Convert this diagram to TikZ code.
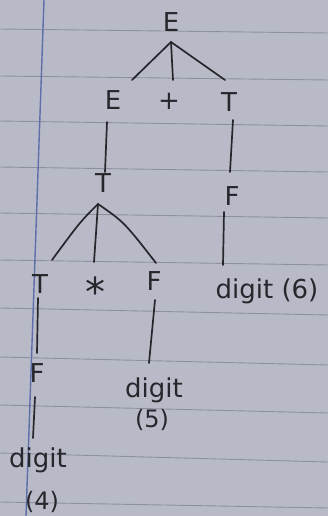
\documentclass[tikz,border=0pt]{standalone}
\usepackage{fontspec}
\setmainfont{DejaVu Sans}
\definecolor{paper}{RGB}{184,187,199}
\definecolor{rule}{RGB}{140,145,160}
\definecolor{margin}{RGB}{95,110,170}
\definecolor{ink}{RGB}{38,38,44}
\begin{document}
\begin{tikzpicture}[x=1pt,y=-1pt,
  lbl/.style={font=\fontsize{26}{26}\selectfont, text=ink, inner sep=0pt, anchor=base},
  small/.style={font=\fontsize{24}{24}\selectfont, text=ink, inner sep=0pt, anchor=base},
  star/.style={font=\fontsize{40}{40}\selectfont, text=ink, inner sep=0pt, anchor=base},
  edge/.style={draw=ink, line width=1.7pt, line cap=round},
  ruling/.style={draw=rule, line width=0.9pt}]
\useasboundingbox (0,0) rectangle (328,516);
\fill[paper] (0,0) rectangle (328,516);
% ruled paper
\foreach \a/\b in {29/33,76/80,121/126,167/172,213/218,260/265,308/315,357/365,405/413,453/462,502/508}
  \draw[ruling] (0,\a) -- (328,\b);
\draw[margin, line width=1.4pt] (44,0) -- (26,516);
% nodes
\node[lbl] (E1) at (171,32) {E};
\node[lbl] (E2) at (113,110) {E};
\node[lbl] (P)  at (169,110) {+};
\node[lbl] (T1) at (229,112) {T};
\node[lbl] (T2) at (103,192) {T};
\node[lbl] (F1) at (232,205) {F};
\node[lbl] (T3) at (40,293) {T};
\node[star] (S) at (95,306) {*};
\node[lbl] (F2) at (154,290) {F};
\node[lbl] (D6) at (267,298) {digit (6)};
\node[lbl] (F3) at (37,382) {F};
\node[lbl] (D5) at (154,397) {digit};
\node[small] (N5) at (152,427) {(5)};
\node[lbl] (D4) at (38,467) {digit};
\node[small] (N4) at (42,509) {(4)};
% connector end points
\coordinate (j1) at (171,42);
\coordinate (a1) at (132,80);
\coordinate (a2) at (173,80);
\coordinate (a3) at (225,80);
\coordinate (e2s) at (107,122);
\coordinate (e2e) at (105,172);
\coordinate (t1s) at (233,120);
\coordinate (t1e) at (230,172);
\coordinate (f1s) at (224,212);
\coordinate (f1e) at (223,265);
\coordinate (j2) at (98,204);
\coordinate (b1) at (52,260);
\coordinate (b2) at (94,262);
\coordinate (b3) at (156,263);
\coordinate (t3s) at (38,298);
\coordinate (t3e) at (37,353);
\coordinate (f3s) at (35,397);
\coordinate (f3e) at (33,438);
\coordinate (f2s) at (155,300);
\coordinate (f2e) at (149,363);
% connectors
\draw[edge] (j1) -- (a1);
\draw[edge] (j1) -- (a2);
\draw[edge] (j1) -- (a3);
\draw[edge] (e2s) -- (e2e);
\draw[edge] (t1s) -- (t1e);
\draw[edge] (f1s) -- (f1e);
\draw[edge] (j2) .. controls (80,222) .. (b1);
\draw[edge] (j2) -- (b2);
\draw[edge] (j2) .. controls (124,222) .. (b3);
\draw[edge] (t3s) -- (t3e);
\draw[edge] (f3s) -- (f3e);
\draw[edge] (f2s) -- (f2e);
\end{tikzpicture}
\end{document}
